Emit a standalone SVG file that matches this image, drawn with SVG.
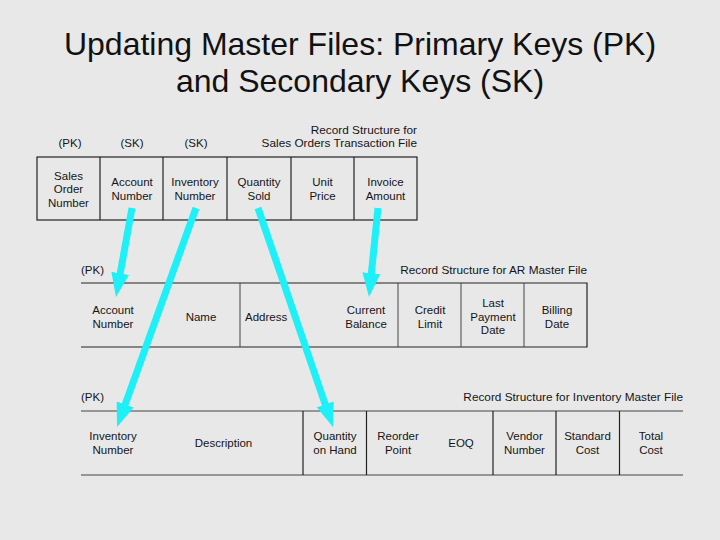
<svg xmlns="http://www.w3.org/2000/svg" width="720" height="540" viewBox="0 0 720 540">
<style>
.bg{fill:#e8e8e8}
.title{font-family:"Liberation Sans",Arial,sans-serif;font-size:32px;fill:#111;text-anchor:middle}
.t{font-family:"Liberation Sans",Arial,sans-serif;font-size:11.5px;fill:#151515;text-anchor:middle}
.l{font-family:"Liberation Sans",Arial,sans-serif;font-size:11.5px;fill:#151515;text-anchor:start}
.r{font-family:"Liberation Sans",Arial,sans-serif;font-size:11.8px;fill:#151515;text-anchor:end}
.box{fill:none;stroke:#222;stroke-width:1.2}
.ln{stroke:#222;stroke-width:1.2;fill:none}
.dv{stroke:#444;stroke-width:1;fill:none}
.arrow{stroke:#1ef0f8;stroke-width:7;fill:none;marker-end:url(#head)}
</style>
<defs>
<marker id="head" viewBox="0 0 24 18" markerWidth="24" markerHeight="18" markerUnits="userSpaceOnUse" refX="4" refY="9" orient="auto">
<path d="M0,0 L24,9 L0,18 z" fill="#1ef0f8"/>
</marker>
</defs>
<rect class="bg" x="0" y="0" width="720" height="540"/>
<g id="title">
<text class="title" x="360" y="55">Updating Master Files: Primary Keys (PK)</text>
<text class="title" x="360" y="92">and Secondary Keys (SK)</text>
</g>

<g id="sales-orders">
<text class="t" x="70" y="147">(PK)</text>
<text class="t" x="132" y="147">(SK)</text>
<text class="t" x="196" y="147">(SK)</text>
<text class="r" x="417" y="134">Record Structure for</text>
<text class="r" x="417" y="147">Sales Orders Transaction File</text>
<rect class="box" x="37" y="157" width="380" height="63"/>
<path class="ln" d="M100,157V220M163,157V220M227,157V220M291,157V220M354,157V220"/>
<g id="so-sales-order-number"><text class="t" x="68.5" y="179.5">Sales</text><text class="t" x="68.5" y="193">Order</text><text class="t" x="68.5" y="206.5">Number</text></g>
<g id="so-account-number"><text class="t" x="132" y="186">Account</text><text class="t" x="132" y="199.5">Number</text></g>
<g id="so-inventory-number"><text class="t" x="195" y="186">Inventory</text><text class="t" x="195" y="199.5">Number</text></g>
<g id="so-quantity-sold"><text class="t" x="259" y="186">Quantity</text><text class="t" x="259" y="199.5">Sold</text></g>
<g id="so-unit-price"><text class="t" x="322.5" y="186">Unit</text><text class="t" x="322.5" y="199.5">Price</text></g>
<g id="so-invoice-amount"><text class="t" x="385.5" y="186">Invoice</text><text class="t" x="385.5" y="199.5">Amount</text></g>
</g>

<g id="ar-master">
<text class="l" x="81" y="273.5">(PK)</text>
<text class="r" x="587" y="273.5">Record Structure for AR Master File</text>
<path class="ln" d="M81,283H587V347H81"/>
<path class="dv" d="M240,283V347M398,283V347M461,283V347M524,283V347"/>
<g id="ar-account-number"><text class="t" x="113" y="314">Account</text><text class="t" x="113" y="327.5">Number</text></g>
<g id="ar-name"><text class="t" x="201" y="320.5">Name</text></g>
<g id="ar-address"><text class="l" x="245" y="320.5">Address</text></g>
<g id="ar-current-balance"><text class="t" x="366" y="314">Current</text><text class="t" x="366" y="327.5">Balance</text></g>
<g id="ar-credit-limit"><text class="t" x="430" y="314">Credit</text><text class="t" x="430" y="327.5">Limit</text></g>
<g id="ar-last-payment-date"><text class="t" x="493" y="307">Last</text><text class="t" x="493" y="320.5">Payment</text><text class="t" x="493" y="334">Date</text></g>
<g id="ar-billing-date"><text class="t" x="557" y="314">Billing</text><text class="t" x="557" y="327.5">Date</text></g>
</g>

<g id="inventory-master">
<text class="l" x="81" y="401">(PK)</text>
<text class="r" x="683" y="401">Record Structure for Inventory Master File</text>
<path class="dv" d="M81,411H683M81,475H683"/>
<path class="ln" d="M303,411V475M366.5,411V475M493,411V475M556,411V475M619.5,411V475"/>
<g id="im-inventory-number"><text class="t" x="113" y="440">Inventory</text><text class="t" x="113" y="453.5">Number</text></g>
<g id="im-description"><text class="t" x="223.5" y="447">Description</text></g>
<g id="im-quantity-on-hand"><text class="t" x="335" y="440">Quantity</text><text class="t" x="335" y="453.5">on Hand</text></g>
<g id="im-reorder-point"><text class="t" x="398" y="440">Reorder</text><text class="t" x="398" y="453.5">Point</text></g>
<g id="im-eoq"><text class="t" x="461" y="447">EOQ</text></g>
<g id="im-vendor-number"><text class="t" x="524.5" y="440">Vendor</text><text class="t" x="524.5" y="453.5">Number</text></g>
<g id="im-standard-cost"><text class="t" x="587.5" y="440">Standard</text><text class="t" x="587.5" y="453.5">Cost</text></g>
<g id="im-total-cost"><text class="t" x="651" y="440">Total</text><text class="t" x="651" y="453.5">Cost</text></g>
</g>

<g id="connectors">
<line class="arrow" x1="132" y1="208" x2="119.5" y2="277.3"/>
<line class="arrow" x1="196" y1="208" x2="123.8" y2="408.2"/>
<line class="arrow" x1="258" y1="208" x2="326.5" y2="408.1"/>
<line class="arrow" x1="378" y1="208" x2="371" y2="277.1"/>
</g>
</svg>
